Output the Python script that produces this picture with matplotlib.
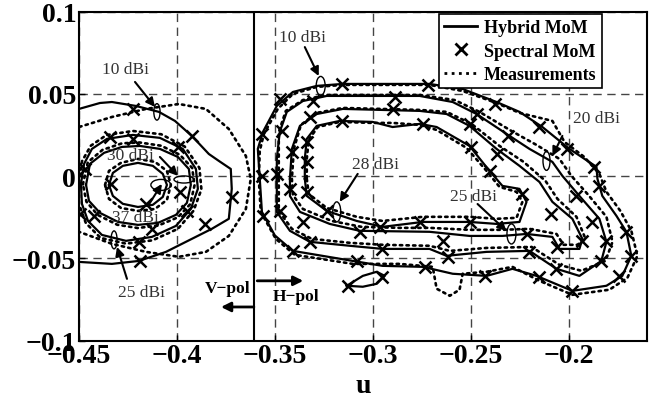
import numpy as np
import matplotlib
matplotlib.use("Agg")
import matplotlib.pyplot as plt
from matplotlib.patches import Ellipse
from matplotlib.lines import Line2D

# ---------------- data (u, v) ----------------
# Right group (H-pol) contours: 10, 20, 25, 28 dBi
H10_HYB = [(-0.3577,-0.0016),(-0.3566,-0.0217),(-0.3500,-0.0360),(-0.3408,-0.0454),(-0.3102,-0.0515),
           (-0.2950,-0.0545),(-0.2745,-0.0551),(-0.2592,-0.0593),(-0.2419,-0.0606),(-0.2287,-0.0563),
           (-0.2164,-0.0606),(-0.1981,-0.0697),(-0.1807,-0.0666),(-0.1726,-0.0606),(-0.1680,-0.0484),
           (-0.1705,-0.0338),(-0.1756,-0.0241),(-0.1828,-0.0120),(-0.1853,-0.0016),(-0.1858,0.0057),
           (-0.1996,0.0166),(-0.2134,0.0299),(-0.2251,0.0391),(-0.2368,0.0451),(-0.2541,0.0530),
           (-0.2710,0.0561),(-0.3153,0.0561),(-0.3286,0.0549),(-0.3408,0.0512),(-0.3490,0.0427),
           (-0.3561,0.0269),(-0.3587,0.0166)]
H20_HYB = [(-0.3490,-0.0016),(-0.3490,-0.0217),(-0.3423,-0.0332),(-0.3321,-0.0399),(-0.3117,-0.0423),
           (-0.2950,-0.0442),(-0.2710,-0.0442),(-0.2623,-0.0484),(-0.2419,-0.0460),(-0.2200,-0.0454),
           (-0.2062,-0.0563),(-0.1945,-0.0606),(-0.1833,-0.0515),(-0.1807,-0.0399),(-0.1843,-0.0259),
           (-0.1945,-0.0120),(-0.2032,0.0002),(-0.2083,0.0087),(-0.2200,0.0166),(-0.2317,0.0257),
           (-0.2470,0.0378),(-0.2592,0.0451),(-0.2760,0.0488),(-0.3235,0.0488),(-0.3357,0.0457),
           (-0.3439,0.0391),(-0.3475,0.0269),(-0.3490,0.0105)]
H25_HYB = [(-0.3423,-0.0016),(-0.3423,-0.0120),(-0.3372,-0.0217),(-0.3220,-0.0290),(-0.3067,-0.0332),
           (-0.2710,-0.0338),(-0.2506,-0.0363),(-0.2338,-0.0363),(-0.2215,-0.0351),(-0.2083,-0.0369),
           (-0.2047,-0.0442),(-0.1945,-0.0442),(-0.1930,-0.0381),(-0.1981,-0.0259),(-0.2083,-0.0156),
           (-0.2149,-0.0035),(-0.2251,0.0063),(-0.2368,0.0166),(-0.2506,0.0306),(-0.2623,0.0378),
           (-0.2760,0.0397),(-0.3153,0.0409),(-0.3286,0.0378),(-0.3372,0.0306),(-0.3413,0.0166)]
H28_HYB = [(-0.3347,-0.0016),(-0.3337,-0.0120),(-0.3235,-0.0211),(-0.3082,-0.0272),(-0.2950,-0.0308),
           (-0.2745,-0.0278),(-0.2506,-0.0278),(-0.2368,-0.0290),(-0.2251,-0.0278),(-0.2215,-0.0156),
           (-0.2251,-0.0077),(-0.2338,-0.0059),(-0.2404,0.0032),(-0.2506,0.0184),(-0.2674,0.0299),
           (-0.2760,0.0318),(-0.2899,0.0299),(-0.3001,0.0330),(-0.3169,0.0336),(-0.3286,0.0306),
           (-0.3337,0.0227),(-0.3347,0.0105)]
H_LOOP_HYB = [(-0.3133,-0.0666),(-0.3051,-0.0606),(-0.2980,-0.0581),(-0.2939,-0.0606),
              (-0.2980,-0.0654),(-0.3051,-0.0672)]

H10_MEAS = [(-0.3582,-0.0016),(-0.3572,-0.0217),(-0.3495,-0.0381),(-0.3398,-0.0478),(-0.3102,-0.0533),
            (-0.2863,-0.0533),(-0.2694,-0.0551),(-0.2674,-0.0684),(-0.2607,-0.0727),(-0.2557,-0.0690),
            (-0.2541,-0.0593),(-0.2419,-0.0581),(-0.2287,-0.0551),(-0.2149,-0.0636),(-0.1981,-0.0721),
            (-0.1792,-0.0690),(-0.1700,-0.0618),(-0.1649,-0.0484),(-0.1680,-0.0332),(-0.1736,-0.0211),
            (-0.1807,-0.0095),(-0.1843,0.0014),(-0.1920,0.0117),(-0.2021,0.0208),(-0.2083,0.0336),
            (-0.2251,0.0385),(-0.2368,0.0445),(-0.2541,0.0518),(-0.2710,0.0555),(-0.3153,0.0555),
            (-0.3286,0.0543),(-0.3408,0.0500),(-0.3485,0.0409),(-0.3556,0.0257),(-0.3577,0.0154)]
H20_MEAS = [(-0.3480,-0.0016),(-0.3480,-0.0211),(-0.3413,-0.0320),(-0.3311,-0.0381),(-0.3117,-0.0405),
            (-0.2950,-0.0417),(-0.2710,-0.0423),(-0.2607,-0.0454),(-0.2419,-0.0436),(-0.2189,-0.0430),
            (-0.2047,-0.0539),(-0.1935,-0.0575),(-0.1812,-0.0515),(-0.1776,-0.0399),(-0.1807,-0.0247),
            (-0.1904,-0.0108),(-0.1986,0.0002),(-0.2047,0.0105),(-0.2164,0.0190),(-0.2292,0.0275),
            (-0.2455,0.0391),(-0.2582,0.0463),(-0.2760,0.0494),(-0.3235,0.0494),(-0.3357,0.0463),
            (-0.3444,0.0397),(-0.3480,0.0269),(-0.3480,0.0105)]
H25_MEAS = [(-0.3413,-0.0016),(-0.3408,-0.0114),(-0.3357,-0.0199),(-0.3210,-0.0272),(-0.3057,-0.0308),
            (-0.2863,-0.0314),(-0.2710,-0.0314),(-0.2506,-0.0326),(-0.2338,-0.0326),(-0.2200,-0.0320),
            (-0.2062,-0.0351),(-0.2026,-0.0417),(-0.1955,-0.0417),(-0.1914,-0.0381),(-0.1960,-0.0247),
            (-0.2057,-0.0138),(-0.2118,-0.0029),(-0.2230,0.0087),(-0.2353,0.0184),(-0.2496,0.0318),
            (-0.2623,0.0391),(-0.2760,0.0403),(-0.3153,0.0415),(-0.3286,0.0385),(-0.3367,0.0312),
            (-0.3403,0.0166)]
H28_MEAS = [(-0.3337,-0.0016),(-0.3327,-0.0108),(-0.3235,-0.0193),(-0.3082,-0.0247),(-0.2950,-0.0272),
            (-0.2745,-0.0247),(-0.2506,-0.0247),(-0.2368,-0.0259),(-0.2266,-0.0253),(-0.2236,-0.0156),
            (-0.2266,-0.0095),(-0.2353,-0.0065),(-0.2419,0.0032),(-0.2521,0.0172),(-0.2674,0.0281),
            (-0.2760,0.0312),(-0.2899,0.0324),(-0.3001,0.0324),(-0.3169,0.0330),(-0.3281,0.0299),
            (-0.3327,0.0221),(-0.3337,0.0105)]

# Left group (V-pol) contours: 10, 25, 30, 37 dBi
V10_HYB = [(-0.4530,0.0400),(-0.4500,0.0409),(-0.4393,0.0445),(-0.4332,0.0451),(-0.4209,0.0427),
           (-0.4092,0.0391),(-0.4010,0.0336),(-0.3924,0.0245),(-0.3837,0.0135),(-0.3786,0.0093),
           (-0.3725,0.0044),(-0.3720,-0.0077),(-0.3735,-0.0259),(-0.3822,-0.0320),(-0.3924,-0.0381),
           (-0.4056,-0.0460),(-0.4194,-0.0515),(-0.4332,-0.0533),(-0.4500,-0.0521),(-0.4530,-0.0515)]
V10_MEAS = [(-0.4530,0.0285),(-0.4500,0.0299),(-0.4332,0.0360),(-0.4158,0.0409),(-0.3990,0.0439),
            (-0.3852,0.0409),(-0.3735,0.0287),(-0.3648,0.0123),(-0.3623,-0.0016),(-0.3648,-0.0199),
            (-0.3735,-0.0363),(-0.3852,-0.0460),(-0.3990,-0.0490),(-0.4158,-0.0460),(-0.4332,-0.0411),
            (-0.4500,-0.0338),(-0.4530,-0.0325)]
V25_HYB = [(-0.4490,-0.0047),(-0.4474,0.0075),(-0.4434,0.0166),(-0.4357,0.0227),(-0.4225,0.0251),
           (-0.4087,0.0233),(-0.3970,0.0166),(-0.3903,0.0044),(-0.3893,-0.0077),(-0.3929,-0.0199),
           (-0.4005,-0.0302),(-0.4128,-0.0369),(-0.4260,-0.0393),(-0.4383,-0.0357),(-0.4454,-0.0272),
           (-0.4485,-0.0168)]
V25_MEAS = [(-0.4500,-0.0040),(-0.4485,0.0090),(-0.4440,0.0185),(-0.4360,0.0250),(-0.4225,0.0275),
            (-0.4080,0.0255),(-0.3960,0.0180),(-0.3885,0.0050),(-0.3875,-0.0080),(-0.3915,-0.0210),
            (-0.3995,-0.0320),(-0.4125,-0.0390),(-0.4260,-0.0410),(-0.4390,-0.0375),(-0.4465,-0.0285),
            (-0.4500,-0.0170)]
V30_HYB = [(-0.4464,-0.0053),(-0.4444,0.0075),(-0.4372,0.0142),(-0.4281,0.0178),(-0.4189,0.0184),
           (-0.4087,0.0166),(-0.3995,0.0117),(-0.3939,0.0044),(-0.3929,-0.0053),(-0.3949,-0.0162),
           (-0.4005,-0.0235),(-0.4097,-0.0284),(-0.4199,-0.0296),(-0.4301,-0.0278),(-0.4393,-0.0223),
           (-0.4449,-0.0150)]
V30_MEAS = [(-0.4480,-0.0050),(-0.4455,0.0085),(-0.4380,0.0160),(-0.4280,0.0200),(-0.4190,0.0205),
            (-0.4080,0.0185),(-0.3985,0.0130),(-0.3922,0.0050),(-0.3910,-0.0055),(-0.3932,-0.0170),
            (-0.3995,-0.0250),(-0.4095,-0.0300),(-0.4200,-0.0315),(-0.4305,-0.0295),(-0.4405,-0.0235),
            (-0.4462,-0.0155)]
V37_HYB = [(-0.4347,-0.0053),(-0.4327,0.0020),(-0.4276,0.0063),(-0.4199,0.0081),(-0.4123,0.0063),
           (-0.4072,0.0014),(-0.4051,-0.0053),(-0.4072,-0.0126),(-0.4123,-0.0174),(-0.4199,-0.0187),
           (-0.4276,-0.0168),(-0.4327,-0.0120)]
V37_MEAS = [(-0.4367,-0.0053),(-0.4347,0.0032),(-0.4286,0.0081),(-0.4199,0.0105),(-0.4112,0.0087),
            (-0.4051,0.0032),(-0.4031,-0.0053),(-0.4051,-0.0144),(-0.4112,-0.0199),(-0.4199,-0.0211),
            (-0.4286,-0.0193),(-0.4347,-0.0138)]

# Spectral MoM samples (x markers)
SPEC_U = [-0.3159,-0.2720,-0.3475,-0.3566,-0.3566,-0.3561,-0.3408,-0.3082,-0.2735,-0.2429,-0.2149,
          -0.1981,-0.1741,-0.1680,-0.1705,-0.1843,-0.1868,-0.2006,-0.2149,-0.2378,
          -0.3306,-0.2888,-0.3465,-0.3490,-0.3475,-0.3321,-0.2955,-0.2618,-0.2200,-0.2062,-0.1833,
          -0.1807,-0.1879,-0.1960,-0.2312,-0.2470,
          -0.3321,-0.2899,-0.3413,-0.3423,-0.3357,-0.3067,-0.2644,-0.2215,-0.2057,-0.1930,-0.2088,
          -0.2368,-0.2506,
          -0.3159,-0.2745,-0.3337,-0.3337,-0.3337,-0.3235,-0.2965,-0.2760,-0.2506,-0.2236,-0.2496,-0.2404,
          -0.3128,-0.2955,
          -0.4225,-0.4469,-0.4342,-0.4225,-0.3924,-0.3995,-0.4495,-0.4423,-0.4337,-0.4158,-0.3985,
          -0.3949,-0.3720,-0.3857,-0.4128,-0.4194,-0.4189]
SPEC_V = [0.0561,0.0555,0.0470,0.0257,0.0002,-0.0241,-0.0454,-0.0515,-0.0551,-0.0606,-0.0612,
          -0.0697,-0.0606,-0.0484,-0.0338,-0.0059,0.0057,0.0166,0.0299,0.0439,
          0.0457,0.0482,0.0275,0.0014,-0.0211,-0.0399,-0.0442,-0.0490,-0.0460,-0.0563,-0.0515,
          -0.0393,-0.0278,-0.0120,0.0245,0.0378,
          0.0360,0.0409,0.0148,-0.0077,-0.0278,-0.0338,-0.0393,-0.0351,-0.0429,-0.0393,-0.0229,
          0.0135,0.0318,
          0.0336,0.0318,0.0208,0.0087,-0.0095,-0.0211,-0.0308,-0.0278,-0.0278,-0.0108,0.0178,0.0032,
          -0.0666,-0.0612,
          0.0409,0.0044,0.0239,0.0227,0.0245,0.0178,-0.0229,-0.0241,-0.0047,-0.0168,-0.0095,
          -0.0211,-0.0126,-0.0290,-0.0320,-0.0399,-0.0515]

# Level labels: (text, text position, arrow tip)
LEVEL_LABELS = [("10 dBi", (-0.4260, 0.0651), (-0.4112, 0.0421)),
                ("30 dBi", (-0.4235, 0.0129), (-0.3995, 0.0002)),
                ("37 dBi", (-0.4214,-0.0247), (-0.4077,-0.0047)),
                ("25 dBi", (-0.4179,-0.0702), (-0.4306,-0.0430)),
                ("10 dBi", (-0.3358, 0.0846), (-0.3276, 0.0609)),
                ("20 dBi", (-0.1858, 0.0354), (-0.2083, 0.0123)),
                ("28 dBi", (-0.2985, 0.0075), (-0.3169,-0.0156)),
                ("25 dBi", (-0.2485,-0.0120), (-0.2317,-0.0333))]
ARROW_TAILS = [(-0.4214, 0.0573), (-0.4087, 0.0117), (-0.4148,-0.0181), (-0.4255,-0.0624),
               (-0.3347, 0.0785), (-0.2032, 0.0245), (-0.3077, 0.0014), (-0.2465,-0.0169)]
# marker ellipses: center, width, height
LEVEL_ELLIPSES = [((-0.4102, 0.0391), 0.0032, 0.0100),
                  ((-0.3964,-0.0020), 0.0102, 0.0043),
                  ((-0.4082,-0.0053), 0.0102, 0.0067),
                  ((-0.4321,-0.0387), 0.0031, 0.0109),
                  ((-0.3266, 0.0549), 0.0046, 0.0115),
                  ((-0.2113, 0.0093), 0.0036, 0.0115),
                  ((-0.3184,-0.0217), 0.0041, 0.0122),
                  ((-0.2292,-0.0351), 0.0046, 0.0122)]

POL_SPLIT_U = -0.3607
X_TICKS = [-0.45, -0.4, -0.35, -0.3, -0.25, -0.2]
X_TICK_LABELS = ["\u22120.45", "\u22120.4", "\u22120.35", "\u22120.3", "\u22120.25", "\u22120.2"]
Y_TICKS = [-0.1, -0.05, 0, 0.05, 0.1]
Y_TICK_LABELS = ["\u22120.1", "\u22120.05", "0", "0.05", "0.1"]

# ---------------- plotting ----------------
plt.rcParams['font.family'] = ['Liberation Serif', 'DejaVu Serif']

fig = plt.figure(figsize=(6.61, 4.02), dpi=100)
ax = fig.add_axes([0.1195, 0.150, 0.8593, 0.8184])

def closed(pts):
    a = np.array(pts)
    return np.vstack([a, a[:1]])

solid_kw = dict(color='black', lw=1.6, solid_joinstyle='round', zorder=3)
dot_kw = dict(color='black', lw=1.9, linestyle=(0, (0.9, 1.6)), dash_capstyle='round', zorder=3)

for c in [H10_HYB, H20_HYB, H25_HYB, H28_HYB, H_LOOP_HYB, V25_HYB, V30_HYB, V37_HYB]:
    a = closed(c)
    ax.plot(a[:, 0], a[:, 1], **solid_kw)
for c in [H10_MEAS, H20_MEAS, H25_MEAS, H28_MEAS, V25_MEAS, V30_MEAS, V37_MEAS]:
    a = closed(c)
    ax.plot(a[:, 0], a[:, 1], **dot_kw)
a = np.array(V10_HYB)
ax.plot(a[:, 0], a[:, 1], **solid_kw)
a = np.array(V10_MEAS)
ax.plot(a[:, 0], a[:, 1], **dot_kw)

ax.plot(SPEC_U, SPEC_V, linestyle='none', marker='x', color='black', ms=8, mew=1.8, zorder=4)

ax.axvline(POL_SPLIT_U, color='black', lw=1.5, zorder=2)

for (c, w, h) in LEVEL_ELLIPSES:
    ax.add_patch(Ellipse(c, w, h, fill=False, edgecolor='black', lw=1.0, zorder=5))

for (txt, tp, tip), tail in zip(LEVEL_LABELS, ARROW_TAILS):
    ax.text(tp[0], tp[1], txt, ha='center', va='center', fontsize=12.5, color='#333333', zorder=6)
    ax.annotate('', xy=tip, xytext=tail,
                arrowprops=dict(arrowstyle='-|>', lw=1.5, color='black', mutation_scale=13,
                                shrinkA=0, shrinkB=0), zorder=6)

# polarisation labels
ax.text(-0.3740, -0.0679, "V\u2212pol", ha='center', va='center', fontsize=12.5, fontweight='bold')
ax.annotate('', xy=(-0.3775, -0.0795), xytext=(POL_SPLIT_U, -0.0795),
            arrowprops=dict(arrowstyle='-|>', lw=2, color='black', mutation_scale=14, shrinkA=0, shrinkB=0))
ax.text(-0.3393, -0.0727, "H\u2212pol", ha='center', va='center', fontsize=12.5, fontweight='bold')
ax.annotate('', xy=(-0.3355, -0.0636), xytext=(-0.3590, -0.0636),
            arrowprops=dict(arrowstyle='-|>', lw=2, color='black', mutation_scale=14, shrinkA=0, shrinkB=0))

ax.set_xlim(-0.45, -0.16)
ax.set_ylim(-0.1, 0.1)
ax.set_xticks(X_TICKS)
ax.set_xticklabels(X_TICK_LABELS)
ax.set_yticks(Y_TICKS)
ax.set_yticklabels(Y_TICK_LABELS)
for lab in ax.get_xticklabels() + ax.get_yticklabels():
    lab.set_fontsize(20)
    lab.set_fontweight('bold')
ax.tick_params(direction='in', length=4, width=1, pad=2)
ax.grid(True, color='#444444', linestyle=(0, (6, 4)), lw=1.0, zorder=1)
ax.set_axisbelow(True)
for s in ax.spines.values():
    s.set_linewidth(1.5)
ax.set_xlabel('u', fontsize=20, fontweight='bold', labelpad=3)

handles = [Line2D([], [], color='black', lw=2),
           Line2D([], [], color='black', lw=0, marker='x', ms=8, mew=2),
           Line2D([], [], color='black', lw=2, linestyle=(0, (1, 1.6)))]
leg = ax.legend(handles, ['Hybrid MoM', 'Spectral MoM', 'Measurements'],
                loc='upper right', bbox_to_anchor=(0.921, 0.993), borderaxespad=0,
                prop={'weight': 'bold', 'size': 13}, fancybox=False, framealpha=1,
                edgecolor='black', handlelength=1.8, handletextpad=0.4, labelspacing=0.35,
                borderpad=0.3)
leg.get_frame().set_linewidth(1.2)
leg.set_zorder(10)

fig.savefig('out.png', dpi=100)
